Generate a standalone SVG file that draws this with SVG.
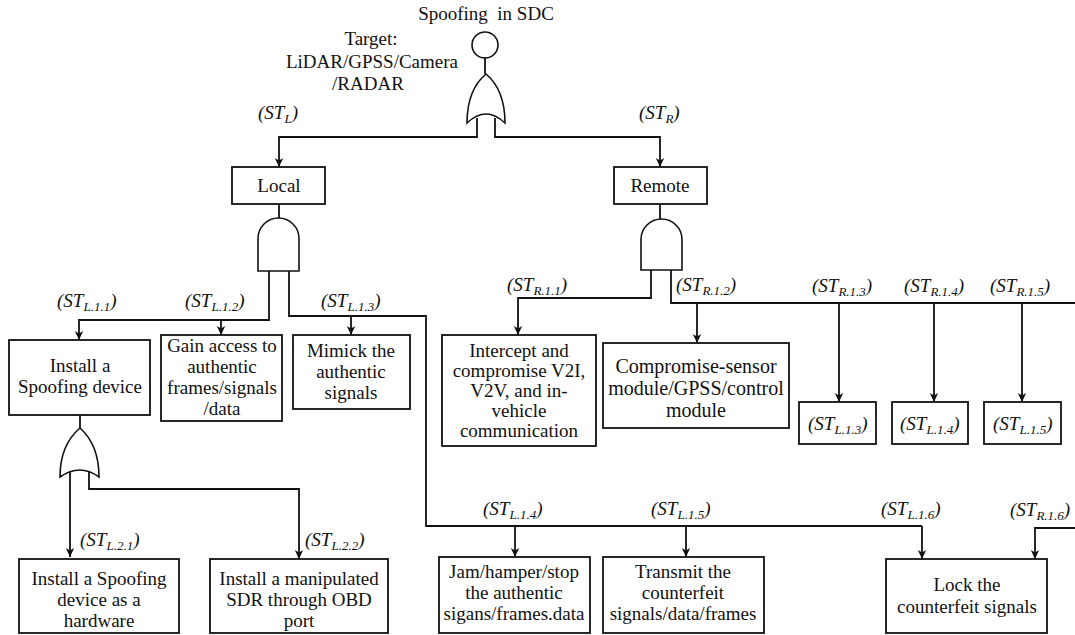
<svg xmlns="http://www.w3.org/2000/svg" width="1075" height="635" viewBox="0 0 1075 635">
<style>
text{font-family:"Liberation Serif","Times New Roman",serif;fill:#111;}
.t{font-size:19px;text-anchor:middle;}
.big{font-size:20px;}
.l{font-size:19px;font-style:italic;}
.s{font-size:13px;}
.box{fill:#fff;stroke:#111;stroke-width:1.8;}
.gate{fill:#fff;stroke:#111;stroke-width:1.6;}
.c{fill:none;stroke:#111;stroke-width:1.8;}
.a{fill:none;stroke:#111;stroke-width:1.8;marker-end:url(#arr);}
</style>
<defs>
<marker id="arr" markerUnits="userSpaceOnUse" markerWidth="10" markerHeight="10" refX="9" refY="5" orient="auto">
<path d="M0,0.8 L9,5 L0,9.2 L2.5,5 Z" fill="#111"/>
</marker>
</defs>
<rect width="1075" height="635" fill="#fff"/>

<g id="connectors">
<line class="c" x1="485" y1="58" x2="485" y2="74"/>
<path class="a" d="M477,118 V137 H279 V167"/>
<path class="a" d="M495,118 V137 H660 V167"/>
<line class="c" x1="279" y1="204" x2="279" y2="218"/>
<line class="c" x1="660" y1="204" x2="660" y2="219"/>
<path class="a" d="M269,271 V320 H79 V340"/>
<path class="a" d="M221,320 V335"/>
<path class="a" d="M289,271 V316 H351 V335"/>
<path class="c" d="M351,316 H426 V526 H922"/>
<path class="a" d="M922,526 V559"/>
<path class="a" d="M515,526 V557"/>
<path class="a" d="M686,526 V557"/>
<line class="c" x1="80" y1="415" x2="80" y2="428"/>
<path class="a" d="M70,472 V557"/>
<path class="a" d="M89,472 V489 H299 V559"/>
<path class="a" d="M651,270 V298 H518 V335"/>
<path class="c" d="M671,270 V303 H1075"/>
<path class="a" d="M697,303 V343"/>
<path class="a" d="M839,303 V402"/>
<path class="a" d="M934,303 V402"/>
<path class="a" d="M1022,303 V402"/>
<path class="a" d="M1075,528 H1035 V559"/>
</g>

<g id="top">
<text class="t" x="486" y="20" xml:space="preserve">Spoofing  in SDC</text>
<circle class="gate" cx="485" cy="45" r="13"/>
<text class="t" x="371" y="45">Target:</text>
<text class="t" x="372" y="68">LiDAR/GPSS/Camera</text>
<text class="t" x="368" y="90">/RADAR</text>
</g>
<g id="or-top">
<path class="gate" d="M467,123 Q467,90 486,74 Q505,90 505,123 Q486,105 467,123 Z"/>
</g>
<g id="labels">
<text class="l" x="258" y="119">(ST<tspan class="s" dy="4">L</tspan><tspan dy="-4">)</tspan></text>
<text class="l" x="639" y="119">(ST<tspan class="s" dy="4">R</tspan><tspan dy="-4">)</tspan></text>
<text class="l" x="57" y="307">(ST<tspan class="s" dy="4">L.1.1</tspan><tspan dy="-4">)</tspan></text>
<text class="l" x="185" y="307">(ST<tspan class="s" dy="4">L.1.2</tspan><tspan dy="-4">)</tspan></text>
<text class="l" x="321" y="307">(ST<tspan class="s" dy="4">L.1.3</tspan><tspan dy="-4">)</tspan></text>
<text class="l" x="507" y="291">(ST<tspan class="s" dy="4">R.1.1</tspan><tspan dy="-4">)</tspan></text>
<text class="l" x="676" y="291">(ST<tspan class="s" dy="4">R.1.2</tspan><tspan dy="-4">)</tspan></text>
<text class="l" x="812" y="292">(ST<tspan class="s" dy="4">R.1.3</tspan><tspan dy="-4">)</tspan></text>
<text class="l" x="904" y="292">(ST<tspan class="s" dy="4">R.1.4</tspan><tspan dy="-4">)</tspan></text>
<text class="l" x="990" y="292">(ST<tspan class="s" dy="4">R.1.5</tspan><tspan dy="-4">)</tspan></text>
<text class="l" x="80" y="546">(ST<tspan class="s" dy="4">L.2.1</tspan><tspan dy="-4">)</tspan></text>
<text class="l" x="305" y="546">(ST<tspan class="s" dy="4">L.2.2</tspan><tspan dy="-4">)</tspan></text>
<text class="l" x="483" y="515">(ST<tspan class="s" dy="4">L.1.4</tspan><tspan dy="-4">)</tspan></text>
<text class="l" x="651" y="515">(ST<tspan class="s" dy="4">L.1.5</tspan><tspan dy="-4">)</tspan></text>
<text class="l" x="881" y="515">(ST<tspan class="s" dy="4">L.1.6</tspan><tspan dy="-4">)</tspan></text>
<text class="l" x="1010" y="516">(ST<tspan class="s" dy="4">R.1.6</tspan><tspan dy="-4">)</tspan></text>
</g>

<g id="local">
<rect class="box" x="232" y="167" width="93" height="37"/>
<text class="t" x="279" y="192">Local</text>
</g>
<g id="and-local">
<path class="gate" d="M258,271 V238.5 A20.5,20.5 0 0 1 299,238.5 V271 Z"/>
</g>
<g id="remote">
<rect class="box" x="614" y="167" width="93" height="37"/>
<text class="t" x="660" y="192">Remote</text>
</g>
<g id="and-remote">
<path class="gate" d="M641,270 V239.5 A20.5,20.5 0 0 1 682,239.5 V270 Z"/>
</g>

<g id="install-device">
<rect class="box" x="9" y="340" width="141" height="75"/>
<text class="t" x="80" y="372">Install a</text>
<text class="t" x="80" y="393">Spoofing device</text>
</g>
<g id="or-install">
<path class="gate" d="M60,477 Q60,445 80,428 Q99,445 99,477 Q80,463 60,477 Z"/>
</g>
<g id="gain-access">
<rect class="box" x="161" y="335" width="121" height="86"/>
<text class="t" x="222" y="352">Gain access to</text>
<text class="t" x="222" y="373">authentic</text>
<text class="t" x="222" y="394">frames/signals</text>
<text class="t" x="222" y="415">/data</text>
</g>
<g id="mimick">
<rect class="box" x="293" y="335" width="117" height="74"/>
<text class="t" x="351" y="357">Mimick the</text>
<text class="t" x="351" y="378">authentic</text>
<text class="t" x="351" y="399">signals</text>
</g>
<g id="intercept">
<rect class="box" x="442" y="335" width="154" height="111"/>
<text class="t" x="519" y="357">Intercept and</text>
<text class="t" x="519" y="377">compromise V2I,</text>
<text class="t" x="519" y="397">V2V, and in-</text>
<text class="t" x="519" y="417">vehicle</text>
<text class="t" x="519" y="437">communication</text>
</g>
<g id="compromise">
<rect class="box" x="603" y="343" width="186" height="85"/>
<text class="t big" x="696" y="373">Compromise-sensor</text>
<text class="t big" x="696" y="395">module/GPSS/control</text>
<text class="t big" x="696" y="417">module</text>
</g>
<g id="ref-l13">
<rect class="box" x="799" y="402" width="77" height="42"/>
<text class="l" x="808" y="430">(ST<tspan class="s" dy="4">L.1.3</tspan><tspan dy="-4">)</tspan></text>
</g>
<g id="ref-l14">
<rect class="box" x="892" y="402" width="76" height="42"/>
<text class="l" x="900" y="430">(ST<tspan class="s" dy="4">L.1.4</tspan><tspan dy="-4">)</tspan></text>
</g>
<g id="ref-l15">
<rect class="box" x="984" y="402" width="77" height="42"/>
<text class="l" x="993" y="430">(ST<tspan class="s" dy="4">L.1.5</tspan><tspan dy="-4">)</tspan></text>
</g>
<g id="install-hardware">
<rect class="box" x="19" y="559" width="160" height="74"/>
<text class="t" x="99" y="585">Install a Spoofing</text>
<text class="t" x="99" y="606">device as a</text>
<text class="t" x="99" y="627">hardware</text>
</g>
<g id="install-sdr">
<rect class="box" x="210" y="559" width="178" height="74"/>
<text class="t" x="299" y="585">Install a manipulated</text>
<text class="t" x="299" y="606">SDR through OBD</text>
<text class="t" x="299" y="627">port</text>
</g>
<g id="jam">
<rect class="box" x="439" y="557" width="151" height="76"/>
<text class="t" x="514" y="578">Jam/hamper/stop</text>
<text class="t" x="514" y="599">the authentic</text>
<text class="t" x="514" y="620">sigans/frames.data</text>
</g>
<g id="transmit">
<rect class="box" x="603" y="557" width="161" height="76"/>
<text class="t" x="683" y="578">Transmit the</text>
<text class="t" x="683" y="599">counterfeit</text>
<text class="t" x="683" y="620">signals/data/frames</text>
</g>
<g id="lock">
<rect class="box" x="886" y="559" width="161" height="74"/>
<text class="t" x="967" y="591">Lock the</text>
<text class="t" x="967" y="613">counterfeit signals</text>
</g>
</svg>
